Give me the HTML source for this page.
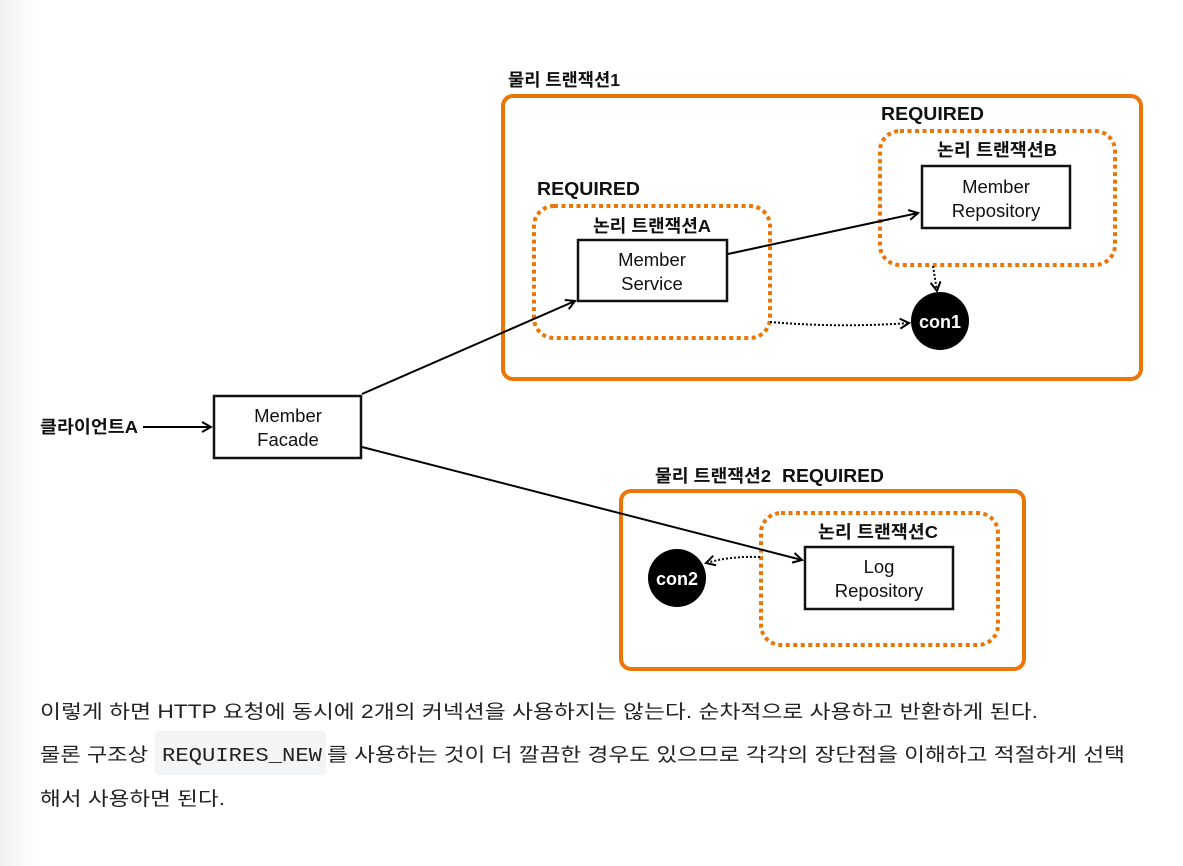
<!DOCTYPE html>
<html><head><meta charset="utf-8"><style>
html,body{margin:0;padding:0;background:#fff;}
body{width:1183px;height:866px;overflow:hidden;position:relative;background:linear-gradient(to right,#f0f0f0 0px,#fbfbfb 25px,#fff 40px);}
svg{position:absolute;left:0;top:0;}
.b{font-family:"Liberation Sans","Noto Sans CJK KR",sans-serif;font-weight:bold;fill:#111;}
.n{font-family:"Liberation Sans","Noto Sans CJK KR",sans-serif;fill:#111;}
.t{font-family:"Liberation Sans","Noto Sans CJK KR",sans-serif;fill:#222;font-size:19px;}
.m{font-family:"Liberation Mono","Noto Sans CJK KR",monospace;fill:#222;font-size:19px;}
</style></head><body>
<svg width="1183" height="866" viewBox="0 0 1183 866">
<defs>
<marker id="a" markerWidth="12" markerHeight="12" refX="10" refY="6" orient="auto" markerUnits="userSpaceOnUse">
<path d="M1,1 L10,6 L1,11" fill="none" stroke="#000" stroke-width="2"/></marker>
</defs>
<!-- physical 1 -->
<rect x="503" y="96" width="638" height="283" rx="10" fill="none" stroke="#EC7508" stroke-width="4"/>
<text class="b" x="508" y="86" font-size="17.5" textLength="112" lengthAdjust="spacingAndGlyphs">물리 트랜잭션1</text>
<text class="b" x="881" y="120" font-size="18" textLength="103" lengthAdjust="spacingAndGlyphs">REQUIRED</text>
<rect x="880" y="131" width="235" height="134" rx="20" fill="none" stroke="#EC7508" stroke-width="4" stroke-dasharray="4,3.5"/>
<text class="b" x="937" y="156" font-size="17.5" textLength="120" lengthAdjust="spacingAndGlyphs">논리 트랜잭션B</text>
<rect x="922" y="166" width="148" height="62" fill="#fff" stroke="#111" stroke-width="2.5"/>
<text class="n" x="996" y="193" font-size="18.5" text-anchor="middle">Member</text>
<text class="n" x="996" y="217" font-size="18.5" text-anchor="middle">Repository</text>
<text class="b" x="537" y="195" font-size="18" textLength="103" lengthAdjust="spacingAndGlyphs">REQUIRED</text>
<rect x="534" y="206" width="236" height="132" rx="20" fill="none" stroke="#EC7508" stroke-width="4" stroke-dasharray="4,3.5"/>
<text class="b" x="593" y="232" font-size="17.5" textLength="118" lengthAdjust="spacingAndGlyphs">논리 트랜잭션A</text>
<rect x="578" y="240" width="149" height="61" fill="#fff" stroke="#111" stroke-width="2.5"/>
<text class="n" x="652" y="266" font-size="18.5" text-anchor="middle">Member</text>
<text class="n" x="652" y="290" font-size="18.5" text-anchor="middle">Service</text>
<line x1="728" y1="254" x2="918" y2="213" stroke="#000" stroke-width="2" marker-end="url(#a)"/>
<line x1="933" y1="266" x2="937" y2="291" stroke="#000" stroke-width="2" stroke-dasharray="2,2" marker-end="url(#a)"/>
<path d="M770,322 Q840,328 909,323" fill="none" stroke="#000" stroke-width="2" stroke-dasharray="2,2" marker-end="url(#a)"/>
<circle cx="940" cy="321" r="29" fill="#000"/>
<text x="940" y="328" font-size="18" text-anchor="middle" class="b" style="fill:#fff">con1</text>
<!-- client / facade -->
<text class="b" x="40" y="433" font-size="17.5" textLength="98" lengthAdjust="spacingAndGlyphs">클라이언트A</text>
<line x1="143" y1="427" x2="211" y2="427" stroke="#000" stroke-width="2" marker-end="url(#a)"/>
<rect x="214" y="396" width="147" height="62" fill="#fff" stroke="#111" stroke-width="2.5"/>
<text class="n" x="288" y="422" font-size="18.5" text-anchor="middle">Member</text>
<text class="n" x="288" y="446" font-size="18.5" text-anchor="middle">Facade</text>
<line x1="362" y1="394" x2="575" y2="301" stroke="#000" stroke-width="2" marker-end="url(#a)"/>
<!-- physical 2 -->
<rect x="621" y="491" width="403" height="178" rx="10" fill="none" stroke="#EC7508" stroke-width="4"/>
<text class="b" x="655" y="482" font-size="17.5" textLength="116" lengthAdjust="spacingAndGlyphs">물리 트랜잭션2</text>
<text class="b" x="782" y="482" font-size="18" textLength="102" lengthAdjust="spacingAndGlyphs">REQUIRED</text>
<rect x="761" y="513" width="237" height="132" rx="20" fill="none" stroke="#EC7508" stroke-width="4" stroke-dasharray="4,3.5"/>
<text class="b" x="818" y="538" font-size="17.5" textLength="120" lengthAdjust="spacingAndGlyphs">논리 트랜잭션C</text>
<rect x="805" y="547" width="148" height="62" fill="#fff" stroke="#111" stroke-width="2.5"/>
<text class="n" x="879" y="573" font-size="18.5" text-anchor="middle">Log</text>
<text class="n" x="879" y="597" font-size="18.5" text-anchor="middle">Repository</text>
<line x1="362" y1="447" x2="802" y2="560" stroke="#000" stroke-width="2" marker-end="url(#a)"/>
<path d="M760,557 Q730,556 706,563" fill="none" stroke="#000" stroke-width="2" stroke-dasharray="2,2" marker-end="url(#a)"/>
<circle cx="677" cy="578" r="29" fill="#000"/>
<text x="677" y="585" font-size="18" text-anchor="middle" class="b" style="fill:#fff">con2</text>
<!-- body text -->
<text class="t" x="40" y="718" textLength="998" lengthAdjust="spacingAndGlyphs">이렇게 하면 HTTP 요청에 동시에 2개의 커넥션을 사용하지는 않는다. 순차적으로 사용하고 반환하게 된다.</text>
<rect x="155" y="731" width="171" height="44" rx="4" fill="#f3f4f6"/>
<text class="t" x="40" y="761" textLength="108" lengthAdjust="spacingAndGlyphs">물론 구조상</text>
<text class="m" x="162" y="761" textLength="160" lengthAdjust="spacingAndGlyphs">REQUIRES_NEW</text>
<text class="t" x="327" y="761" textLength="798" lengthAdjust="spacingAndGlyphs">를 사용하는 것이 더 깔끔한 경우도 있으므로 각각의 장단점을 이해하고 적절하게 선택</text>
<text class="t" x="40" y="805" textLength="185" lengthAdjust="spacingAndGlyphs">해서 사용하면 된다.</text>
</svg>
</body></html>
